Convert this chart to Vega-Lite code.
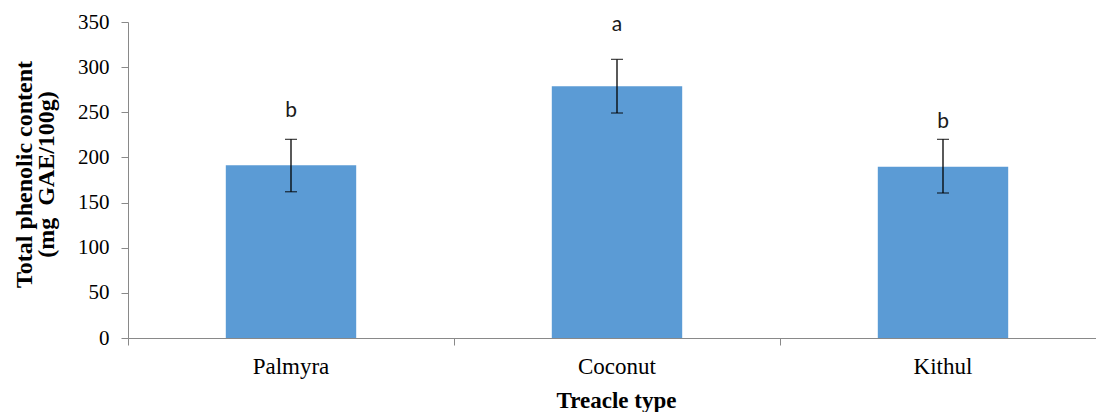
{
  "$schema": "https://vega.github.io/schema/vega-lite/v6.json",
  "autosize": "none",
  "width": 968,
  "height": 316,
  "padding": {"left": 128, "top": 22, "right": 0, "bottom": 74},
  "background": "white",
  "config": {"view": {"stroke": null}},
  "data": {
    "values": [
      {"type": "Palmyra", "mean": 191.3, "low": 162, "high": 220, "letter": "b", "letter_y": 245},
      {"type": "Coconut", "mean": 278.7, "low": 249.2, "high": 308.6, "letter": "a", "letter_y": 340},
      {"type": "Kithul", "mean": 189.7, "low": 160.6, "high": 220, "letter": "b", "letter_y": 233}
    ]
  },
  "encoding": {
    "x": {
      "field": "type",
      "type": "nominal",
      "sort": ["Palmyra", "Coconut", "Kithul"],
      "scale": {"range": [0, 978], "paddingInner": 0, "paddingOuter": 0},
      "axis": {
        "title": "Treacle type",
        "titleFont": "Liberation Serif",
        "titleFontSize": 23,
        "titleFontWeight": "bold",
        "titleColor": "black",
        "titleX": 488,
        "titleY": 62,
        "titleBaseline": "middle",
        "titleAlign": "center",
        "labelAngle": 0,
        "labelFont": "Liberation Serif",
        "labelFontSize": 23,
        "labelColor": "black",
        "labelPadding": 10,
        "labelBaseline": "top",
        "bandPosition": 0,
        "labelOffset": 0,
        "domainColor": "#898989",
        "tickColor": "#898989",
        "tickSize": 7,
        "ticks": true,
        "grid": false
      }
    }
  },
  "layer": [
    {
      "mark": {"type": "bar", "color": "#5B9BD5", "width": {"band": 0.4}},
      "encoding": {
        "y": {
          "field": "mean",
          "type": "quantitative",
          "scale": {"domain": [0, 350], "nice": false},
          "axis": {
            "values": [0, 50, 100, 150, 200, 250, 300, 350],
            "grid": false,
            "title": ["Total phenolic content", "(mg\u00a0\u00a0GAE/100g)"],
            "titleFont": "Liberation Serif",
            "titleFontSize": 24,
            "titleFontWeight": "bold",
            "titleColor": "black",
            "titleLineHeight": 22,
            "titleAngle": -90,
            "titleX": -104,
            "titleY": 152,
            "titleBaseline": "middle",
            "titleAlign": "center",
            "labelFont": "Liberation Serif",
            "labelFontSize": 21,
            "labelColor": "black",
            "labelPadding": 12,
            "domainColor": "#898989",
            "tickColor": "#898989",
            "tickSize": 7
          }
        }
      }
    },
    {
      "mark": {"type": "rule", "color": "black", "strokeWidth": 1.3},
      "encoding": {
        "y": {"field": "low", "type": "quantitative"},
        "y2": {"field": "high"}
      }
    },
    {
      "mark": {"type": "tick", "color": "black", "size": 12, "thickness": 1.3},
      "encoding": {"y": {"field": "low", "type": "quantitative"}}
    },
    {
      "mark": {"type": "tick", "color": "black", "size": 12, "thickness": 1.3},
      "encoding": {"y": {"field": "high", "type": "quantitative"}}
    },
    {
      "mark": {"type": "text", "font": "Lato", "fontSize": 21, "color": "#1a1a1a", "baseline": "alphabetic"},
      "encoding": {
        "y": {"field": "letter_y", "type": "quantitative"},
        "text": {"field": "letter"}
      }
    }
  ]
}
